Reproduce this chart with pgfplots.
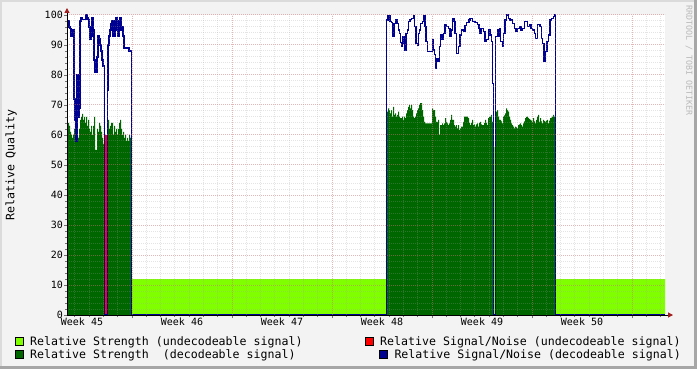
\documentclass[border=0pt]{standalone}
\usepackage{pgfplots}
\pgfplotsset{compat=1.18}
\usepackage{fontspec}
\setmainfont{DejaVu Sans Mono}
\usetikzlibrary{arrows.meta}
\definecolor{ltgreen}{RGB}{128,255,0}
\definecolor{dkgreen}{RGB}{0,102,0}
\definecolor{navyblue}{RGB}{0,0,145}
\definecolor{snrred}{RGB}{255,0,0}
\definecolor{bg}{RGB}{243,243,243}
\definecolor{wm}{RGB}{185,185,185}
\definecolor{arrowred}{RGB}{160,30,30}
\definecolor{gridgrey}{RGB}{160,160,160}
\definecolor{mgridred}{RGB}{225,90,90}
\begin{document}
\begin{tikzpicture}[x=1bp,y=1bp]
\useasboundingbox (0,0) rectangle (697,369);
\fill[bg] (0,0) rectangle (697,369);
\fill[black!14] (0,367) rectangle (697,369);
\fill[black!14] (0,0) rectangle (2,369);
\fill[black!35] (0,0) rectangle (697,3);
\fill[black!35] (694,0) rectangle (697,369);
\begin{axis}[
  at={(67bp,54bp)}, anchor=south west,
  scale only axis, width=598bp, height=300bp,
  xmin=67, xmax=665, ymin=0, ymax=100,
  axis background/.style={fill=white},
  axis on top,
  axis x line=bottom, axis y line=left,
  axis line style={line width=1bp, black},
  x axis line style={-{Triangle[length=5bp,width=5bp,color=arrowred]}, shorten >=-8bp},
  y axis line style={-{Triangle[length=5bp,width=5bp,color=arrowred]}, shorten >=-7bp},
  xtick={132,232,332,432,532,632},
  xticklabels={,,,,,},
  minor xtick={74.857,89.143,...,665},
  extra x ticks={82,182,282,382,482,582},
  extra x tick labels={Week 45,Week 46,Week 47,Week 48,Week 49,Week 50},
  extra x tick style={grid=none, major tick length=0pt},
  ytick={0,10,...,100},
  minor ytick={0,2,...,100},
  grid=both,
  major grid style={draw=mgridred, draw opacity=0.32, dash pattern=on 1bp off 1bp, line width=1bp},
  minor grid style={draw=gridgrey, draw opacity=0.28, dash pattern=on 1bp off 1bp, line width=1bp},
  tick align=outside,
  major tick length=3bp, minor tick length=2bp,
  tick style={black!55, line width=0.8bp, solid},
  /pgf/number format/assume math mode=true,
  tick label style={font=\fontsize{10bp}{12bp}\selectfont, inner sep=0pt},
  x tick label style={anchor=north, yshift=-3bp},
  y tick label style={anchor=east, xshift=-1bp},
  ylabel={Relative Quality},
  ylabel style={at={(axis description cs:-0.0936,0.5)}, anchor=center, font=\fontsize{11.6bp}{13bp}\selectfont},
]
% light green: relative strength (undecodeable)
\addplot[const plot, fill=ltgreen, draw=none] coordinates {
(67,0) (131.3,12) (386.5,0) (493.3,56) (495.3,0) (555.7,12) (665,12)
} \closedcycle;
% dark green: relative strength (decodeable)
\addplot[const plot, fill=dkgreen, draw=none] coordinates {
(67,62) (68,64) (69,63) (70,61) (71,60) (72,59) (73,60) (74,62) (75,61) (76,58)
(77,60) (78,59) (79,62) (80,65) (81,66) (82,67) (83,65) (84,66) (85,64) (86,66)
(87,63) (88,65) (89,62) (90,61) (91,63) (92,60) (93,63) (94,66) (95,55) (96,55)
(97,62) (98,61) (99,64) (100,63) (101,61) (102,59) (103,57) (104.5,0) (107.3,62)
(108,65) (109,62) (110,63) (111,64) (113,60) (114,63) (115,61) (116,62) (117,60)
(118,62) (119,64) (120,65) (121,62) (122,60) (123,61) (124,59) (125,60) (126,58)
(127,59) (128,58) (129,60) (130,59) (131.3,0)
(386.5,67.8) (388,68.9) (389,68.3) (390,67.2) (391,68.3) (392,66.1) (393,69.4)
(394,66.7) (395,67.2) (396,66.1) (397,66.7) (398,67.8) (399,66.1) (400,65.6)
(402,66.1) (403,65) (404,66.1) (405,65.6) (406,67.2) (407,68.3) (408,69.4)
(409,70) (410,68.9) (411,70) (412,68.3) (413,66.1) (414,65.6) (415,66.1)
(416,67.2) (417,68.3) (418,68.9) (419,70) (420,70.6) (422,68.3) (423,66.1)
(424,64.4) (425,63.9) (432,68.9) (433,68.3) (435,66.1) (436,64.4) (438,65)
(439,60) (440,63.3) (442,63.9) (443,63.3) (444,63.9) (445,65.6) (446,64.4)
(447,63.9) (448,63.3) (449,63.9) (450,65) (451,66.7) (452,65) (454,63.3)
(455,62.8) (456,63.3) (457,62.2) (458,63.3) (459,61.7) (460,62.2) (461,62.8)
(463,64.4) (464,66.1) (468,65.6) (469,64) (470,63.3) (471,64) (472,65)
(473,63.3) (474,63.5) (475,62.8) (476,63.5) (477,63.9) (478,62.8) (479,64)
(480,64.4) (481,63.5) (482,63.3) (484,64) (485,65) (486,64) (487,63.3)
(488,65.6) (489,66) (490,66.1) (491,66.7) (492,64.4) (493.3,0) (495.3,67.8)
(497,68.3) (498,66.1) (499,65) (501,64.5) (502,63.9) (503,66.1) (504,66.5)
(505,67.2) (506,68.9) (507,68.3) (508,67.8) (509,66.1) (510,65) (511,63.9)
(512,63.3) (513,62.8) (514,62.2) (515,62.8) (516,62.5) (517,62.2) (518,63.3)
(519,63.5) (520,63.9) (521,63.3) (522,62.8) (523,63.9) (524,64.5) (525,65.6)
(526,66) (527,66.1) (528,65.6) (529,65.3) (530,65) (531,64.8) (532,64.4)
(533,65.6) (534,64.5) (535,63.9) (536,65) (537,66.1) (538,66.7) (539,64.4)
(540,65.6) (541,64.5) (542,63.9) (543,65) (544,64.6) (545,64.4) (546,64.8)
(547,65) (548,63.9) (549,64.8) (550,65.6) (551,65.8) (552,66.1) (553,66.7)
(554,66.1) (555.7,0) (665,0)
} \closedcycle;
% red: relative SNR (undecodeable)
\addplot[snrred, line width=1.6bp] coordinates {(106,0) (106,60)};
% blue: relative SNR (decodeable)
\addplot[const plot, navyblue, line width=1.2bp] coordinates {
(67,96) (68,98) (69,96) (70,95.5) (71,93) (72,95) (74,72) (75,65) (76,58) (77,80)
(78,66) (79,69) (80,98) (81,99) (82,98.5) (86,100) (87,99) (88,98.5) (89,96)
(90,92) (91,93) (92,99) (93,95) (94,85) (95,81) (97,86) (98,93) (99,92) (100,90)
(101,88) (102,85) (103,83) (104.5,0) (107.3,75) (108,90) (109,93) (110,95)
(111,97) (112,98) (113,93) (115,98) (116,99) (117,95) (118,93) (119,98) (120,99)
(121,95) (122,96) (123,93) (124,89) (129,88) (131.3,0)
(386.5,98.3) (388,99.7) (390,97.8) (391.7,97.4) (392.7,92.8) (394,97.2)
(396,98.3) (397.3,97.2) (398.3,95) (399.3,93.9) (400.7,90.8) (401.7,89.4)
(402.7,92.8) (404,90.6) (405,88.1) (406,93.9) (407.3,95) (408.3,97.8)
(410,98.6) (411.7,98.9) (413.3,99.7) (414.3,96.1) (416,90.6) (417.3,90)
(418.3,93.9) (419.3,95) (420.7,97.2) (422.3,97.8) (424,99.7) (425,96.1)
(426,91.1) (427.3,87.8) (432.3,91.7) (433.3,88.3) (434.3,86.7) (435.7,82.2)
(436.7,85.6) (438,84.4) (439.3,89.4) (440.7,93.3) (442,91.7) (443.3,93.9)
(445,96.7) (446.7,96.1) (448.3,95.6) (450,93) (451,95) (452.7,98.9) (454,97.8)
(455,93.9) (456.7,87.2) (458.3,89.4) (460,93.3) (461.7,95) (463.3,94.5)
(465,96.5) (466.7,97.4) (469,98.3) (470,98.9) (472.3,97.8) (475,97.4)
(477.7,96.7) (479,95.6) (480,93.9) (481.7,95.6) (483.3,94.4) (485,91.1)
(486.7,91.7) (488.3,95) (490,93.3) (491.7,91.1) (492.7,77.2) (493.7,0)
(495.3,92.8) (497.3,95) (498.3,92.8) (499.3,95.6) (500.7,91.1) (502.3,89.4)
(503.7,93.9) (505,98.3) (506.7,100) (508.3,98.9) (510,98.3) (512.3,97.2)
(514.3,95.6) (516,94.4) (517.7,95.6) (519.3,96.1) (521,95) (522.7,95.6)
(524.3,97.8) (527.7,96.1) (529.3,96.7) (531,95.6) (532.7,95) (534.3,93.9)
(535.7,92.2) (537.7,96.7) (540,96.1) (541.7,92.2) (542.7,90.6) (544,84.4)
(545.7,87.8) (547,91.1) (548.3,93.3) (550,98.3) (551.7,98.9) (553.3,99.4)
(554.3,100) (555.7,0) (665,0)
};
\end{axis}
% legend
\filldraw[fill=ltgreen, draw=black, line width=0.8bp] (15,24) rectangle (23,32);
\filldraw[fill=dkgreen, draw=black, line width=0.8bp] (15,10.5) rectangle (23,18.5);
\filldraw[fill=snrred, draw=black, line width=0.8bp] (365,24) rectangle (373,32);
\filldraw[fill=navyblue, draw=black, line width=0.8bp] (379.5,10.5) rectangle (387.5,18.5);
\begin{scope}[every node/.style={inner sep=0pt, anchor=base west, font=\fontsize{11.6bp}{13bp}\selectfont}]
\node at (30,24) {Relative Strength (undecodeable signal)};
\node at (30,10.7) {Relative Strength~~(decodeable signal)};
\node at (380,24) {Relative Signal/Noise (undecodeable signal)};
\node at (394.3,10.7) {Relative Signal/Noise (decodeable signal)};
\end{scope}
\node[rotate=-90, anchor=west, inner sep=0pt, text=wm, font=\fontsize{8.3bp}{9bp}\selectfont] at (689,364) {RRDTOOL / TOBI OETIKER};
\end{tikzpicture}
\end{document}
